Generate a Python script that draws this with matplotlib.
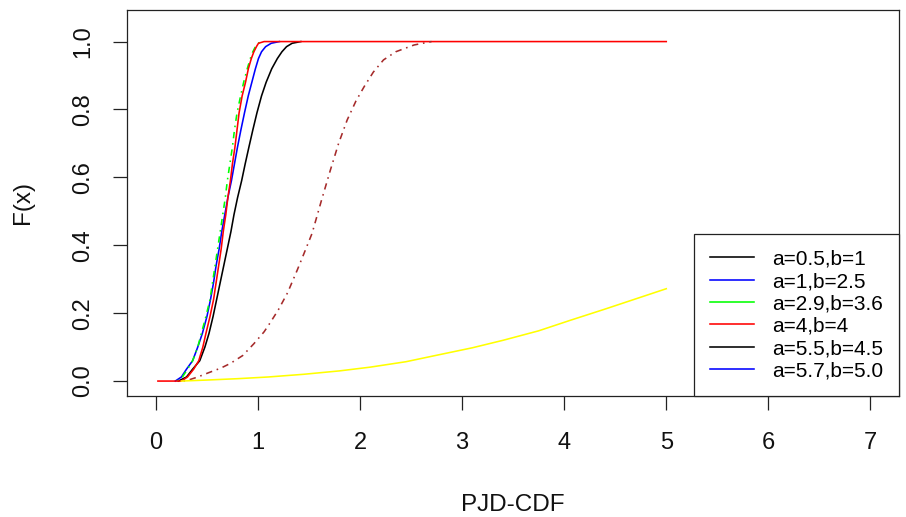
import matplotlib
matplotlib.use("Agg")
import matplotlib.pyplot as plt

# ---- data ----
levels = [0.0, 0.012, 0.035, 0.06, 0.10, 0.14, 0.19, 0.24, 0.29, 0.34, 0.39, 0.44, 0.49, 0.54,
          0.59, 0.64, 0.69, 0.74, 0.79, 0.84, 0.88, 0.92, 0.95, 0.97, 0.985, 0.995, 1.0]

red_x = [0.02, 0.25, 0.31, 0.37, 0.42, 0.46, 0.49, 0.53, 0.565, 0.59, 0.615, 0.64, 0.66, 0.685, 0.705,
         0.73, 0.75, 0.775, 0.795, 0.815, 0.845, 0.878, 0.906, 0.935, 0.96, 0.985, 1.005, 1.06, 5.0]
red_y = [0.0] + levels + [1.0]

green_x = [0.21, 0.26, 0.31, 0.36, 0.41, 0.445, 0.49, 0.53, 0.555, 0.58, 0.605, 0.63, 0.655, 0.68,
           0.70, 0.725, 0.75, 0.77, 0.795, 0.83, 0.86, 0.895, 0.925, 0.95, 0.975, 1.0, 1.04]
green_y = levels

blue_x = [0.19, 0.25, 0.30, 0.36, 0.41, 0.455, 0.50, 0.535, 0.565, 0.59, 0.62, 0.645, 0.675, 0.705,
          0.74, 0.77, 0.80, 0.833, 0.868, 0.905, 0.94, 0.975, 1.005, 1.035, 1.075, 1.13, 1.21]
blue_y = levels

black_x = [0.22, 0.30, 0.36, 0.43, 0.48, 0.52, 0.56, 0.595, 0.63, 0.665, 0.70, 0.735, 0.765, 0.80,
           0.84, 0.875, 0.912, 0.95, 0.99, 1.035, 1.08, 1.135, 1.19, 1.235, 1.28, 1.335, 1.42]
black_y = levels

brown_x = [0.27, 0.34, 0.41, 0.52, 0.635, 0.73, 0.85, 0.96, 1.06, 1.12, 1.20, 1.29, 1.385, 1.45,
           1.53, 1.62, 1.71, 1.79, 1.874, 1.96, 2.04, 2.13, 2.23, 2.35, 2.53, 2.70]
brown_y = [0.0, 0.005, 0.012, 0.025, 0.038, 0.052, 0.075, 0.11, 0.145, 0.172, 0.21, 0.26, 0.327, 0.375,
           0.435, 0.53, 0.622, 0.70, 0.769, 0.825, 0.867, 0.91, 0.946, 0.97, 0.99, 1.0]

yellow_x = [0.25, 0.5, 0.80, 1.1, 1.45, 1.8, 2.10, 2.45, 2.75, 3.1, 3.40, 3.75, 4.06, 4.4, 4.71, 5.0]
yellow_y = [0.0, 0.003, 0.007, 0.012, 0.02, 0.03, 0.041, 0.057, 0.076, 0.098, 0.12, 0.148, 0.179,
            0.212, 0.243, 0.272]

x_ticks = [0, 1, 2, 3, 4, 5, 6, 7]
y_ticks = [0.0, 0.2, 0.4, 0.6, 0.8, 1.0]
y_tick_labels = ["0.0", "0.2", "0.4", "0.6", "0.8", "1.0"]

legend_labels = ["a=0.5,b=1", "a=1,b=2.5", "a=2.9,b=3.6", "a=4,b=4", "a=5.5,b=4.5", "a=5.7,b=5.0"]
legend_colors = ["black", "blue", "#00FF00", "red", "black", "blue"]

x_label = "PJD-CDF"
y_label = "F(x)"

# ---- figure ----
plt.rcParams['font.family'] = ['Liberation Sans', 'DejaVu Sans']
W, H = 906, 517
fig = plt.figure(figsize=(W / 100, H / 100), dpi=100)
ax = fig.add_axes([127.3 / W, 1 - 396 / H, (899 - 127.3) / W, (396 - 10) / H])

lw = 1.15
dotdash = (0, (1, 3, 4, 3))
ax.plot(black_x, black_y, color="black", lw=lw)
ax.plot(blue_x, blue_y, color="blue", lw=lw)
ax.plot(green_x, green_y, color="#00FF00", lw=lw, linestyle=dotdash)
ax.plot(red_x, red_y, color="red", lw=lw)
ax.plot(brown_x, brown_y, color="#A52A2A", lw=lw, linestyle=dotdash)
ax.plot(yellow_x, yellow_y, color="#FFFF00", lw=lw)

ax.set_xlim(-0.28, 7.28)
ax.set_ylim(-0.044, 1.093)
ax.set_xticks(x_ticks)
ax.set_xticklabels([str(t) for t in x_ticks])
ax.set_yticks(y_ticks)
ax.set_yticklabels(y_tick_labels, rotation=90, va="center")

for s in ax.spines.values():
    s.set_color("#222222")
    s.set_linewidth(0.9)
ax.tick_params(axis="both", direction="out", length=10, width=0.9, color="#222222",
               labelsize=17, labelcolor="#111111")
ax.tick_params(axis="x", pad=16)
ax.tick_params(axis="y", pad=14)

fig.text(513 / W, 1 - 505 / H, x_label, ha="center", va="center", fontsize=17.5, color="#111111")
fig.text(23 / W, 1 - 203 / H, y_label, ha="center", va="center", rotation=90, fontsize=17.5, color="#111111")

handles = [plt.Line2D([], [], color=c, lw=lw) for c in legend_colors]
leg = ax.legend(handles, legend_labels, loc="lower right", borderaxespad=0,
                fancybox=False, edgecolor="#222222", framealpha=1, fontsize=15,
                handlelength=2.1, handletextpad=0.9, labelspacing=0.16, borderpad=0.75)
leg.get_frame().set_linewidth(0.9)

fig.savefig("out.png", dpi=100)
